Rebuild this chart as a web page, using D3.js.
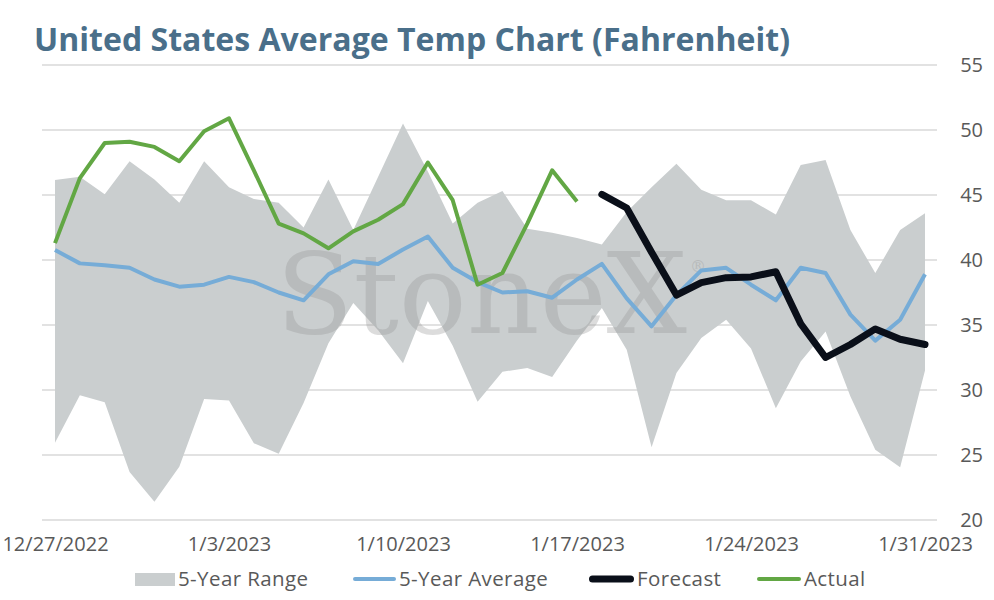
<html>
<head>
<script src="https://cdn.jsdelivr.net/npm/d3@7"></script>
<style>
	body {
		margin: 0;
		background-color: #ffffff;
		font-family: "Open Sans", Lato, sans-serif;
	}
</style>
</head>
<body>
<div id="chart"></div>
<script>
	// one point per day
	var dates = ["2022-12-27","2022-12-28","2022-12-29","2022-12-30","2022-12-31",
		"2023-01-01","2023-01-02","2023-01-03","2023-01-04","2023-01-05","2023-01-06",
		"2023-01-07","2023-01-08","2023-01-09","2023-01-10","2023-01-11","2023-01-12",
		"2023-01-13","2023-01-14","2023-01-15","2023-01-16","2023-01-17","2023-01-18",
		"2023-01-19","2023-01-20","2023-01-21","2023-01-22","2023-01-23","2023-01-24",
		"2023-01-25","2023-01-26","2023-01-27","2023-01-28","2023-01-29","2023-01-30",
		"2023-01-31"];
	var rangeLow = [25.95,29.6,29.05,23.7,21.4,24.1,29.3,29.2,25.9,25.1,29.0,33.6,
		36.7,34.6,32.05,36.85,33.4,29.1,31.4,31.7,31.0,33.8,36.3,33.1,25.6,31.3,
		34.0,35.4,33.2,28.6,32.2,34.5,29.5,25.4,24.05,31.5];
	var rangeHigh = [46.15,46.4,45.05,47.6,46.2,44.4,47.6,45.6,44.7,44.4,42.5,46.2,
		42.3,46.4,50.5,46.8,42.8,44.4,45.3,42.4,42.1,41.7,41.2,43.7,45.6,47.4,
		45.4,44.6,44.6,43.5,47.3,47.7,42.3,39.0,42.3,43.6];
	var average = [40.77,39.74,39.6,39.4,38.5,37.95,38.1,38.7,38.3,37.5,36.9,38.9,
		39.9,39.7,40.8,41.8,39.4,38.3,37.5,37.6,37.1,38.5,39.7,37.05,34.9,37.3,
		39.2,39.4,38.1,36.9,39.4,39.0,35.8,33.8,35.4,38.9];
	var actual = [41.3,46.3,49.0,49.1,48.7,47.6,49.9,50.9,46.9,42.8,42.05,40.9,
		42.2,43.1,44.3,47.5,44.6,38.1,39.0,42.8,46.9,44.5,null,null,null,null,
		null,null,null,null,null,null,null,null,null,null];
	var forecast = [null,null,null,null,null,null,null,null,null,null,null,null,
		null,null,null,null,null,null,null,null,null,null,45.05,44.0,40.6,37.3,
		38.26,38.64,38.7,39.1,35.1,32.5,33.5,34.7,33.9,33.5];
	var yTicks = [20,25,30,35,40,45,50,55];
	var legendNames = ["5-Year Range","5-Year Average","Forecast","Actual"];

	var width = 994, height = 600;
	var parse = d3.timeParse("%Y-%m-%d");
	var days = dates.map(parse);

	var svg = d3.select("#chart").append("svg")
		.attr("width", width)
		.attr("height", height)
		.attr("display", "block");

	var x = d3.scaleTime()
		.domain([days[0], days[days.length-1]])
		.range([55, 925]);
	var y = d3.scaleLinear()
		.domain([20, 55])
		.range([520, 65]);

	// title
	svg.append("text")
		.attr("x", 34)
		.attr("y", 51)
		.attr("fill", "#4a6f8a")
		.attr("font-size", 32)
		.attr("font-weight", 700)
		.attr("textLength", 756)
		.attr("lengthAdjust", "spacing")
		.text("United States Average Temp Chart (Fahrenheit)");

	// gridlines
	svg.selectAll(".grid")
		.data(yTicks)
		.enter()
		.append("line")
		.attr("x1", 42)
		.attr("x2", 937)
		.attr("y1", function(d){ return y(d); })
		.attr("y2", function(d){ return y(d); })
		.attr("stroke", "#d9d9d9")
		.attr("stroke-width", 1.5);

	// y labels on the right
	var yAxis = d3.axisRight(y).tickValues(yTicks).tickSize(0).tickPadding(0);
	var gy = svg.append("g")
		.attr("transform", "translate(983,0)")
		.call(yAxis);
	gy.select(".domain").remove();
	gy.selectAll("text")
		.attr("text-anchor", "end")
		.attr("font-family", "'Open Sans', sans-serif")
		.attr("font-size", 20)
		.attr("fill", "#595959");

	// x labels, weekly
	var xAxis = d3.axisBottom(x)
		.tickValues(days.filter(function(d,i){ return i % 7 == 0; }))
		.tickFormat(d3.timeFormat("%-m/%-d/%Y"))
		.tickSize(0)
		.tickPadding(0);
	var gx = svg.append("g")
		.attr("transform", "translate(0,537)")
		.call(xAxis);
	gx.select(".domain").remove();
	gx.selectAll("text")
		.attr("font-family", "'Open Sans', sans-serif")
		.attr("font-size", 20)
		.attr("fill", "#595959");

	// 5 year range band
	var band = d3.area()
		.x(function(d,i){ return x(days[i]); })
		.y0(function(d,i){ return y(rangeLow[i]); })
		.y1(function(d,i){ return y(rangeHigh[i]); });
	svg.append("path")
		.datum(days)
		.attr("d", band)
		.attr("fill", "#cacecf");

	// watermark
	svg.append("text")
		.attr("x", 276)
		.attr("y", 333)
		.attr("font-family", "'DejaVu Serif', serif")
		.attr("font-size", 113)
		.attr("fill", "#969696")
		.attr("opacity", 0.33)
		.text("StoneX");
	svg.append("text")
		.attr("x", 690)
		.attr("y", 272)
		.attr("font-family", "'DejaVu Serif', serif")
		.attr("font-size", 16)
		.attr("fill", "#969696")
		.attr("opacity", 0.35)
		.text("\u00ae");

	function lineOf(values){
		return d3.line()
			.defined(function(d,i){ return values[i] != null; })
			.x(function(d,i){ return x(days[i]); })
			.y(function(d,i){ return y(values[i]); })(days);
	}

	svg.append("path")
		.attr("d", lineOf(average))
		.attr("fill", "none")
		.attr("stroke", "#76acd7")
		.attr("stroke-width", 4)
		.attr("stroke-linejoin", "round");

	svg.append("path")
		.attr("d", lineOf(actual))
		.attr("fill", "none")
		.attr("stroke", "#62a744")
		.attr("stroke-width", 4)
		.attr("stroke-linejoin", "round");

	svg.append("path")
		.attr("d", lineOf(forecast))
		.attr("fill", "none")
		.attr("stroke", "#0a0f19")
		.attr("stroke-width", 7)
		.attr("stroke-linejoin", "round")
		.attr("stroke-linecap", "round");

	// legend
	var legend = [
		{x: 135, w: 40, type: "rect", color: "#cacecf"},
		{x: 353, w: 43, type: "line", color: "#76acd7", sw: 4},
		{x: 589, w: 45, type: "line", color: "#0a0f19", sw: 7},
		{x: 757, w: 44, type: "line", color: "#62a744", sw: 4}
	];
	legend.forEach(function(l, i){
		if(l.type == "rect"){
			svg.append("rect")
				.attr("x", l.x).attr("y", 573)
				.attr("width", l.w).attr("height", 13)
				.attr("fill", l.color);
		} else {
			svg.append("line")
				.attr("x1", l.x + l.sw/2).attr("x2", l.x + l.w - l.sw/2)
				.attr("y1", 579).attr("y2", 579)
				.attr("stroke", l.color)
				.attr("stroke-width", l.sw)
				.attr("stroke-linecap", "round");
		}
		svg.append("text")
			.attr("x", l.x + l.w + 3)
			.attr("y", 586)
			.attr("font-size", 20.5)
			.attr("letter-spacing", 0.4)
			.attr("fill", "#595959")
			.text(legendNames[i]);
	});
</script>
</body>
</html>
